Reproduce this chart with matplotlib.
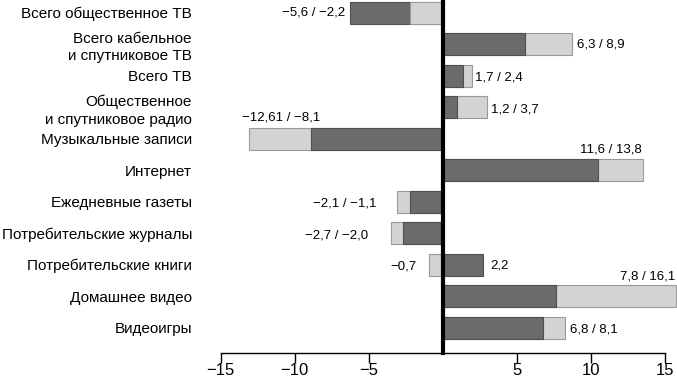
import numpy as np
import matplotlib
matplotlib.use("Agg")
import matplotlib.pyplot as plt

plt.rcParams['font.family'] = ['Liberation Sans', 'DejaVu Sans']

categories = [
    "Всего общественное ТВ",
    "Всего кабельное\nи спутниковое ТВ",
    "Всего ТВ",
    "Общественное\nи спутниковое радио",
    "Музыкальные записи",
    "Интернет",
    "Ежедневные газеты",
    "Потребительские журналы",
    "Потребительские книги",
    "Домашнее видео",
    "Видеоигры",
]
# bar ends as drawn in the picture
dark_vals = [-6.26, 5.59, 1.37, 0.95, -8.92, 10.52, -2.18, -2.65, 2.76, 7.65, 6.77]
light_vals = [-2.18, 8.76, 2.0, 2.98, -13.07, 13.53, -3.07, -3.48, -0.89, 15.78, 8.26]
# printed values
value_texts = ["−5,6 / −2,2", "6,3 / 8,9", "1,7 / 2,4", "1,2 / 3,7", "−12,61 / −8,1",
               "11,6 / 13,8", "−2,1 / −1,1", "−2,7 / −2,0", "−0,7", "7,8 / 16,1", "6,8 / 8,1"]
extra_text = "2,2"  # second label of the books row

xticks = [-15, -10, -5, 5, 10, 15]

DARK = "#6b6b6e"
LIGHT = "#d3d3d3"

fig = plt.figure(figsize=(6.77, 3.8), dpi=100)
ax = fig.add_axes([220.7 / 677, 27.3 / 380, 456.3 / 677, 352.7 / 380])

y = np.arange(len(categories))
h = 0.70
dark_bars = ax.barh(y, dark_vals, height=h, color=DARK, edgecolor="#505050", linewidth=0.8)
light_bars = ax.barh(y, light_vals, height=h, color=LIGHT, edgecolor="#9a9a9a", linewidth=0.8)
# longer bar behind the shorter one
for d, l, dv, lv in zip(dark_bars, light_bars, dark_vals, light_vals):
    if abs(dv) >= abs(lv):
        d.set_zorder(2); l.set_zorder(3)
    else:
        d.set_zorder(3); l.set_zorder(2)
    d.set_clip_on(False); l.set_clip_on(False)

ax.set_xlim(-15, 15.84)
ax.set_ylim(10.79, -0.40)

ax.axvline(0, color="black", lw=3, zorder=5, clip_on=False)

for s in ["top", "right", "left"]:
    ax.spines[s].set_visible(False)
ax.spines["bottom"].set_bounds(-15, 15)
ax.spines["bottom"].set_linewidth(1)

ax.set_xticks(xticks)
ax.set_xticklabels([str(t).replace("-", "−") for t in xticks], fontsize=12)
ax.tick_params(axis="x", direction="out", length=7.2, width=1, pad=0.5)

ax.set_yticks(y)
ax.set_yticklabels(categories, fontsize=11, linespacing=1.35)
ax.tick_params(axis="y", length=0, pad=20.7)

# label placement: (anchor on which bar, dx px, dy px, ha)
place = [
    ("dark", -5, 0, "right"),
    ("light", 5, 0, "left"),
    ("light", 3, -2, "left"),
    ("light", 4, -2, "left"),
    ("light", 32, 21.5, "center"),
    ("light", -1, 21, "right"),
    ("light", -21, -2, "right"),
    ("light", -22.7, -2.5, "right"),
    ("light", -13, -2, "right"),
    ("light", -1, 19.6, "right"),
    ("light", 5, -2, "left"),
]
for i, (txt, (which, dx, dy, ha)) in enumerate(zip(value_texts, place)):
    xv = dark_vals[i] if which == "dark" else light_vals[i]
    ax.annotate(txt, (xv, i), xytext=(dx, dy), textcoords="offset pixels",
                ha=ha, va="center", fontsize=9.5, annotation_clip=False)
ax.annotate(extra_text, (dark_vals[8], 8), xytext=(7, -1), textcoords="offset pixels",
            ha="left", va="center", fontsize=9.5)

fig.savefig("out.png", dpi=100)
